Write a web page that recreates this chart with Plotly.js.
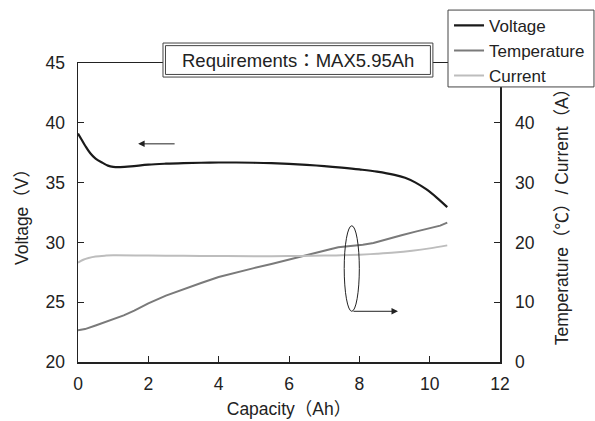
<!DOCTYPE html>
<html>
<head>
<meta charset="utf-8">
<script src="https://cdn.plot.ly/plotly-3.0.1.min.js"></script>
<style>html,body{margin:0;padding:0;background:#fff;}#chart{width:595px;height:421px;}</style>
</head>
<body>
<div id="chart"></div>
<script>
// Capacity (Ah) and values for each series
var voltageCap = [0,0.1,0.2,0.35,0.5,0.7,0.85,1.0,1.2,1.5,2,2.5,3,3.5,4,4.5,5,5.5,6,6.5,7,7.5,8,8.5,9,9.3,9.6,9.9,10.2,10.5];
var voltage    = [39.1,38.6,38.1,37.45,37.0,36.65,36.42,36.32,36.3,36.35,36.5,36.58,36.63,36.66,36.68,36.68,36.66,36.62,36.56,36.48,36.38,36.25,36.1,35.92,35.65,35.4,35.0,34.45,33.75,32.95];

var tempCap     = [0,0.2,0.5,1.0,1.3,1.6,2.0,2.5,3.0,3.5,4.0,4.5,5.0,5.5,6.0,6.5,7.0,7.4,7.8,8.1,8.4,8.8,9.2,9.6,10.0,10.3,10.5];
var temperature = [5.3,5.5,6.1,7.2,7.8,8.6,9.8,11.1,12.2,13.2,14.2,15.0,15.7,16.4,17.1,17.8,18.6,19.2,19.4,19.6,19.9,20.6,21.2,21.8,22.3,22.8,23.3];

var currentCap = [0,0.15,0.3,0.5,0.8,1.0,2,3,4,5,6,7,7.5,8,8.5,9,9.5,10,10.5];
var current    = [16.6,17.1,17.4,17.65,17.8,17.85,17.8,17.75,17.72,17.7,17.72,17.8,17.85,17.95,18.1,18.3,18.6,19.0,19.5];

var xTicks = [0,2,4,6,8,10,12];
var yLeftTicks = [20,25,30,35,40,45];
var yRightTicks = [0,10,20,30,40];

var seriesNames = ['Voltage','Temperature','Current'];
var noteText = 'Requirements：MAX5.95Ah';

var FONT = 'Liberation Sans, Arial, Noto Sans CJK JP, sans-serif';
var TXT = '#222';
var FS = 17.5;

var traces = [
  {x: voltageCap, y: voltage, name: seriesNames[0], type: 'scatter', mode: 'lines',
   line: {color: '#1a1a1a', width: 2.2, shape: 'spline'}, yaxis: 'y'},
  {x: tempCap, y: temperature, name: seriesNames[1], type: 'scatter', mode: 'lines',
   line: {color: '#7a7a7a', width: 2}, yaxis: 'y2'},
  {x: currentCap, y: current, name: seriesNames[2], type: 'scatter', mode: 'lines',
   line: {color: '#bdbdbd', width: 2, shape: 'spline'}, yaxis: 'y2'}
];

var layout = {
  width: 595, height: 421,
  margin: {l: 78, r: 95, t: 63, b: 58.5, autoexpand: false},
  paper_bgcolor: '#fff', plot_bgcolor: '#fff',
  font: {family: FONT, size: FS, color: TXT},
  showlegend: true,
  legend: {x: 0.8792, y: 1.1846, xanchor: 'left', yanchor: 'top',
           bgcolor: 'rgba(0,0,0,0)', borderwidth: 0,
           font: {family: FONT, size: 17, color: TXT}, itemwidth: 30,
           tracegroupgap: 0},
  xaxis: {range: [0, 12], tickvals: xTicks, ticks: 'inside', ticklen: 6, tickcolor: '#222',
          showline: true, linecolor: '#222', linewidth: 1.5, mirror: true,
          showgrid: false, zeroline: false, ticklabelstandoff: 5,
          tickfont: {family: FONT, size: FS, color: TXT},
          title: {text: 'Capacity（Ah）', standoff: 10, font: {family: FONT, size: FS, color: TXT}}},
  yaxis: {range: [20, 45], tickvals: yLeftTicks, ticks: 'inside', ticklen: 6, tickcolor: '#222',
          showline: true, linecolor: '#222', linewidth: 1.5,
          showgrid: false, zeroline: false, ticklabelstandoff: 8,
          tickfont: {family: FONT, size: FS, color: TXT},
          title: {text: 'Voltage（V）', standoff: 12, font: {family: FONT, size: FS, color: TXT}}},
  yaxis2: {range: [0, 50], tickvals: yRightTicks, overlaying: 'y', side: 'right',
           ticks: 'inside', ticklen: 6, tickcolor: '#222',
           showline: true, linecolor: '#222', linewidth: 1.5,
           showgrid: false, zeroline: false, ticklabelstandoff: 10,
           tickfont: {family: FONT, size: FS, color: TXT},
           title: {text: 'Temperature（℃）/ Current（A）', standoff: 22, font: {family: FONT, size: FS, color: TXT}}},
  shapes: [
    // legend frame
    {type: 'rect', xref: 'paper', yref: 'paper', x0: 0.8768, x1: 1.2227, y0: 0.9199, y1: 1.177,
     fillcolor: '#fff', line: {color: '#444', width: 1}, layer: 'above'},
    // requirement box (double border)
    {type: 'rect', xref: 'paper', yref: 'paper', x0: 0.2014, x1: 0.841, y0: 0.953, y1: 1.0668,
     fillcolor: '#fff', line: {color: '#444', width: 1}, layer: 'above'},
    {type: 'rect', xref: 'paper', yref: 'paper', x0: 0.2073, x1: 0.8351, y0: 0.9617, y1: 1.0581,
     fillcolor: 'rgba(0,0,0,0)', line: {color: '#444', width: 1}, layer: 'above'},
    // ellipse grouping temperature/current
    {type: 'circle', xref: 'x', yref: 'y', x0: 7.57, x1: 8.0, y0: 24.24, y1: 31.39,
     line: {color: '#222', width: 1}, fillcolor: 'rgba(0,0,0,0)'}
  ],
  annotations: [
    {xref: 'paper', yref: 'paper', x: 0.521, y: 1.01, text: noteText, showarrow: false,
     font: {family: FONT, size: 18.5, color: TXT}, xanchor: 'center', yanchor: 'middle'},
    // left-pointing arrow (voltage -> left axis)
    {xref: 'x', yref: 'y', axref: 'x', ayref: 'y', x: 1.71, y: 38.24, ax: 2.79, ay: 38.24,
     text: '', showarrow: true, arrowhead: 2, arrowsize: 1.3, arrowwidth: 1, arrowcolor: '#222', standoff: 0},
    // right-pointing arrow (temp/current -> right axis)
    {xref: 'x', yref: 'y', axref: 'x', ayref: 'y', x: 9.1, y: 24.24, ax: 7.79, ay: 24.24,
     text: '', showarrow: true, arrowhead: 2, arrowsize: 1.3, arrowwidth: 1, arrowcolor: '#222', standoff: 0}
  ]
};

Plotly.newPlot('chart', traces, layout, {staticPlot: true, displayModeBar: false});
</script>
</body>
</html>
